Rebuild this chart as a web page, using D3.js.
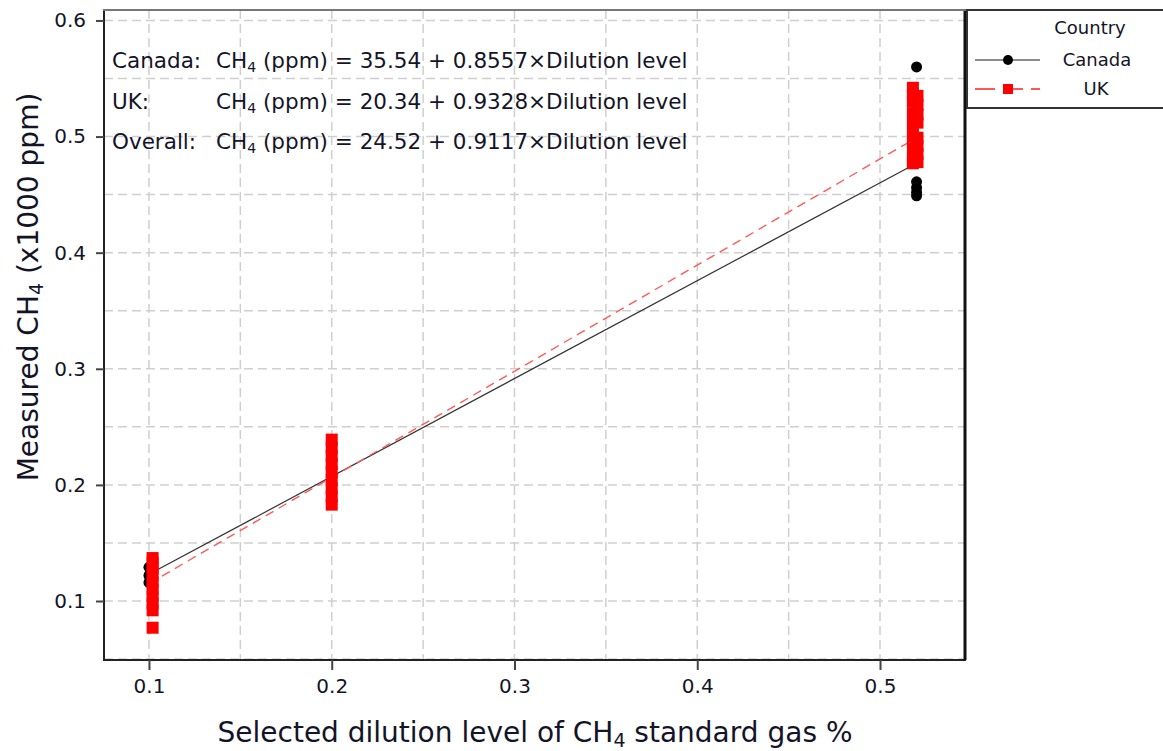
<!DOCTYPE html>
<html>
<head>
<meta charset="utf-8">
<script src="https://cdn.jsdelivr.net/npm/d3@7"></script>
<style>
  html, body { margin: 0; padding: 0; background: #fff; }
  svg text { font-family: "DejaVu Sans", sans-serif; fill: #141428; }
</style>
</head>
<body>
<div id="chart"></div>
<script>
// --- data ---
const xTicks = [0.1, 0.2, 0.3, 0.4, 0.5];
const yTicks = [0.1, 0.2, 0.3, 0.4, 0.5, 0.6];
const gridX = [0.1, 0.15, 0.2, 0.25, 0.3, 0.35, 0.4, 0.45, 0.5];
const gridY = [0.05, 0.1, 0.15, 0.2, 0.25, 0.3, 0.35, 0.4, 0.45, 0.5, 0.55, 0.6];

// Canada measurements (circles), mostly hidden under UK squares
const canadaX = [0.1, 0.1, 0.1, 0.2, 0.2, 0.2, 0.52, 0.52, 0.52, 0.52, 0.52, 0.52, 0.52];
const canadaY = [0.116, 0.122, 0.129, 0.200, 0.210, 0.220, 0.560, 0.500, 0.480, 0.461, 0.456, 0.452, 0.449];

// UK measurements (squares)
const ukX = [0.102, 0.102, 0.102, 0.102, 0.102, 0.102, 0.102, 0.102, 0.102, 0.102,
             0.2, 0.2, 0.2, 0.2, 0.2, 0.2, 0.2, 0.2, 0.2,
             0.518, 0.518, 0.518, 0.518, 0.518, 0.518, 0.518, 0.518, 0.518,
             0.5205, 0.5205, 0.5205, 0.5205, 0.5205, 0.5205, 0.5205, 0.5205];
const ukY = [0.077, 0.092, 0.098, 0.104, 0.110, 0.116, 0.122, 0.128, 0.133, 0.137,
             0.183, 0.190, 0.197, 0.204, 0.211, 0.218, 0.225, 0.232, 0.239,
             0.542, 0.536, 0.530, 0.520, 0.510, 0.500, 0.490, 0.480, 0.477,
             0.535, 0.527, 0.519, 0.512, 0.499, 0.492, 0.485, 0.478];

// fitted lines (end points)
const canadaFitX = [0.1, 0.52];
const canadaFitY = [0.123, 0.477];
const ukFitX = [0.1, 0.52];
const ukFitY = [0.115, 0.499];

const eqLabels = ["Canada:", "UK:", "Overall:"];
const eqValues = ["= 35.54 + 0.8557×Dilution level", "= 20.34 + 0.9328×Dilution level", "= 24.52 + 0.9117×Dilution level"];

const W = 1163, H = 751;
const m = { l: 104, r: 965, t: 10, b: 660 };

const svg = d3.select("#chart").append("svg")
  .attr("width", W).attr("height", H);

const x = d3.scaleLinear().domain([0.0754, 0.5465]).range([m.l, m.r]);
const y = d3.scaleLinear().domain([0.0492, 0.609]).range([m.b, m.t]);

// grid
svg.append("g").selectAll("line").data(gridX).join("line")
  .attr("x1", d => x(d)).attr("x2", d => x(d))
  .attr("y1", m.t).attr("y2", m.b)
  .attr("stroke", "#cfcfcf").attr("stroke-width", 1.5).attr("stroke-dasharray", "9,5");
svg.append("g").selectAll("line").data(gridY).join("line")
  .attr("x1", m.l).attr("x2", m.r)
  .attr("y1", d => y(d)).attr("y2", d => y(d))
  .attr("stroke", "#cfcfcf").attr("stroke-width", 1.5).attr("stroke-dasharray", "9,5");

// fit lines
const line = d3.line().x(d => x(d[0])).y(d => y(d[1]));
svg.append("path").datum(d3.zip(canadaFitX, canadaFitY))
  .attr("d", line).attr("fill", "none").attr("stroke", "#333").attr("stroke-width", 1.2);
svg.append("path").datum(d3.zip(ukFitX, ukFitY))
  .attr("d", line).attr("fill", "none").attr("stroke", "#ff5a5a")
  .attr("stroke-width", 1.4).attr("stroke-dasharray", "9,6");

// points
svg.append("g").selectAll("circle").data(d3.zip(canadaX, canadaY)).join("circle")
  .attr("cx", d => x(d[0])).attr("cy", d => y(d[1])).attr("r", 5.5).attr("fill", "#000");
const sq = 12;
svg.append("g").selectAll("rect").data(d3.zip(ukX, ukY)).join("rect")
  .attr("x", d => x(d[0]) - sq / 2).attr("y", d => y(d[1]) - sq / 2)
  .attr("width", sq).attr("height", sq).attr("fill", "#ff0000");

// frame: top edge is a lighter rule running across into the legend
svg.append("path")
  .attr("d", `M${m.r},${m.t}V${m.b}H${m.l}V${m.t}`)
  .attr("fill", "none").attr("stroke", "#222").attr("stroke-width", 2);
svg.append("line").attr("x1", m.r).attr("x2", m.r).attr("y1", m.t).attr("y2", m.b)
  .attr("stroke", "#111").attr("stroke-width", 3);
svg.append("line").attr("x1", m.l - 1).attr("x2", W).attr("y1", m.t).attr("y2", m.t)
  .attr("stroke", "#777").attr("stroke-width", 2);

// axes
const xAxis = svg.append("g").attr("transform", `translate(0,${m.b})`)
  .call(d3.axisBottom(x).tickValues(xTicks).tickSize(10).tickPadding(9).tickFormat(d3.format(".1f")));
const yAxis = svg.append("g").attr("transform", `translate(${m.l},0)`)
  .call(d3.axisLeft(y).tickValues(yTicks).tickSize(8).tickPadding(10).tickFormat(d3.format(".1f")));
[xAxis, yAxis].forEach(a => {
  a.select(".domain").remove();
  a.selectAll(".tick line").attr("stroke", "#444").attr("stroke-width", 2);
  a.selectAll(".tick text").style("font-size", "20px").attr("fill", "#141428");
});

// axis titles
const xt = svg.append("text").attr("x", 535).attr("y", 742)
  .attr("text-anchor", "middle").style("font-size", "28px");
xt.append("tspan").text("Selected dilution level of CH");
xt.append("tspan").attr("dy", 5).style("font-size", "19px").text("4");
xt.append("tspan").attr("dy", -5).text(" standard gas %");

const yt = svg.append("text").attr("transform", "translate(38,287) rotate(-90)")
  .attr("text-anchor", "middle").style("font-size", "28px");
yt.append("tspan").text("Measured CH");
yt.append("tspan").attr("dy", 5).style("font-size", "19px").text("4");
yt.append("tspan").attr("dy", -5).text(" (x1000 ppm)");

// regression equations
const eqY = [68, 109, 149];
eqLabels.forEach((lab, i) => {
  svg.append("text").attr("x", 112).attr("y", eqY[i]).style("font-size", "21.5px").text(lab);
  const t = svg.append("text").attr("x", 216).attr("y", eqY[i]).style("font-size", "21.5px");
  t.append("tspan").text("CH");
  t.append("tspan").attr("dy", 4).style("font-size", "14px").text("4");
  t.append("tspan").attr("dy", -4).text(" (ppm) " + eqValues[i]);
});

// legend
const lg = svg.append("g");
lg.append("path").attr("d", "M1188,10H967V108H1188")
  .attr("fill", "#fff").attr("stroke", "#333").attr("stroke-width", 2);
lg.append("text").attr("x", 1090).attr("y", 34).attr("text-anchor", "middle")
  .style("font-size", "18px").text("Country");
lg.append("line").attr("x1", 975).attr("x2", 1040).attr("y1", 60).attr("y2", 60)
  .attr("stroke", "#666").attr("stroke-width", 1.5);
lg.append("circle").attr("cx", 1008).attr("cy", 60).attr("r", 5).attr("fill", "#000");
lg.append("text").attr("x", 1097).attr("y", 66).attr("text-anchor", "middle")
  .style("font-size", "18px").text("Canada");
lg.append("line").attr("x1", 975).attr("x2", 1040).attr("y1", 89).attr("y2", 89)
  .attr("stroke", "#ff2020").attr("stroke-width", 1.5).attr("stroke-dasharray", "20,8");
lg.append("rect").attr("x", 1003).attr("y", 84).attr("width", 10).attr("height", 10).attr("fill", "#ff0000");
lg.append("text").attr("x", 1096).attr("y", 95).attr("text-anchor", "middle")
  .style("font-size", "18px").text("UK");
</script>
</body>
</html>
